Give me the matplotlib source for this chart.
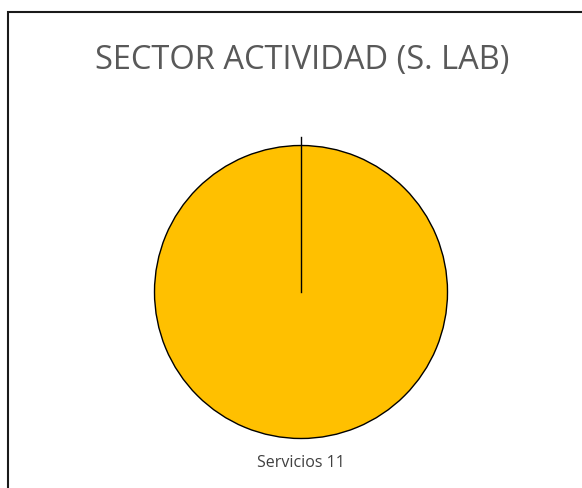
import matplotlib.pyplot as plt
from matplotlib.patches import Rectangle
import numpy as np

# chart data
categories = ["Servicios"]
values = [11]
colors = ["#FFC000"]
title = "SECTOR ACTIVIDAD (S. LAB)"

W, H = 582, 488
fig = plt.figure(figsize=(W / 100, H / 100), dpi=100)

# outer frame (runs off the right/bottom edge like the original)
fig.patches.append(Rectangle((8 / W, 0 - 0.02), 1.0, (H - 12) / H + 0.02,
                             transform=fig.transFigure, fill=False,
                             edgecolor="#1a1a1a", linewidth=1.5))

fig.text(302 / W, 1 - 60 / H, title, ha="center", va="center",
         fontsize=23.5, color="#595959", family="Open Sans")

# pie axes, centre ~ (301, 292) px, radius ~146.5 px
r = 146.5
cx, cy = 301, 292
ax = fig.add_axes([(cx - r) / W, (H - cy - r) / H, 2 * r / W, 2 * r / H])
labels = [f"{c} {v}" for c, v in zip(categories, values)]
wedges, texts = ax.pie(values, colors=colors, labels=labels, startangle=90,
                       counterclock=False, radius=1, labeldistance=1.17,
                       wedgeprops=dict(edgecolor="black", linewidth=1.0),
                       textprops=dict(fontsize=11.5, color="#404040", family="Open Sans"))
for t in texts:
    t.set_ha("center")
ax.set_xlim(-1, 1)
ax.set_ylim(-1, 1)
ax.set_aspect("equal")

# slice start line (single full slice), with the little stub above
a = np.deg2rad(90)
ax.plot([0, 1.055 * np.cos(a)], [0, 1.055 * np.sin(a)], color="black",
        linewidth=1.0, clip_on=False)

fig.savefig("out.png", dpi=100)
